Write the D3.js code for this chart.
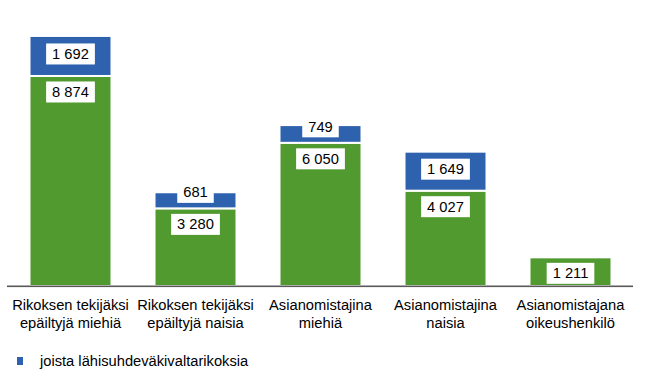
<!DOCTYPE html>
<html><head><meta charset="utf-8">
<script src="https://cdn.jsdelivr.net/npm/d3@7"></script>
<style>body{margin:0;background:#fff;} svg{display:block;font-family:"Liberation Sans",Arial,sans-serif;}</style>
</head><body>
<svg id="c" width="651" height="381"></svg>
<script>
const categories = [
  ["Rikoksen tekijäksi", "epäiltyjä miehiä"],
  ["Rikoksen tekijäksi", "epäiltyjä naisia"],
  ["Asianomistajina", "miehiä"],
  ["Asianomistajina", "naisia"],
  ["Asianomistajana", "oikeushenkilö"]
];
const baseValues = [8874, 3280, 6050, 4027, 1211];
const violenceValues = [1692, 681, 749, 1649, null];
const legendLabel = "joista lähisuhdeväkivaltarikoksia";

const green = "#509A2F", blue = "#2F62AE";
const FS = 14.7;
const svg = d3.select("#c");
const fmt = v => d3.format(",")(v).replace(/,/g, " ");

const x = d3.scaleBand().domain(d3.range(categories.length)).range([8, 633])
  .paddingInner(0.344).paddingOuter(0.172);
const y = d3.scaleLinear().domain([0, 12000]).range([286, 2]);

const data = categories.map((c, i) => ({i, c, g: baseValues[i], b: violenceValues[i]}));

svg.selectAll("rect.g").data(data).join("rect")
  .attr("x", d => x(d.i)).attr("width", x.bandwidth())
  .attr("y", d => y(d.g)).attr("height", d => y(0) - y(d.g))
  .attr("fill", green).attr("stroke", "#fff").attr("stroke-width", 2);
const bd = data.filter(d => d.b);
svg.selectAll("rect.b").data(bd).join("rect")
  .attr("x", d => x(d.i)).attr("width", x.bandwidth())
  .attr("y", d => y(d.g + d.b)).attr("height", d => y(d.g) - y(d.g + d.b))
  .attr("fill", blue).attr("stroke", "#fff").attr("stroke-width", 2);

svg.append("rect").attr("x", 7).attr("y", 285.5).attr("width", 626).attr("height", 1.6).attr("fill", "#595959");

function label(cx, cy, txt) {
  const g = svg.append("g");
  const t = g.append("text").attr("x", cx).attr("y", cy).attr("text-anchor", "middle")
    .attr("dominant-baseline", "central").attr("font-size", FS).attr("fill", "#000").text(txt);
  const w = t.node().getComputedTextLength();
  g.insert("rect", "text").attr("x", cx - w / 2 - 6).attr("y", cy - 10.5).attr("width", w + 12)
    .attr("height", 21).attr("fill", "#fff");
}
data.forEach(d => {
  const cx = x(d.i) + x.bandwidth() / 2;
  label(cx, y(d.g) + 16, fmt(d.g));
  if (d.b) {
    const top = y(d.g + d.b), bot = y(d.g);
    label(cx, Math.min((top + bot) / 2 - 2, bot - 16), fmt(d.b));
  }
});

data.forEach(d => {
  const cx = x(d.i) + x.bandwidth() / 2;
  const t = svg.append("text").attr("text-anchor", "middle").attr("font-size", FS).attr("fill", "#000");
  d.c.forEach((line, k) => t.append("tspan").attr("x", cx).attr("y", 309.5 + k * 18.5).text(line));
});

svg.append("rect").attr("x", 17).attr("y", 357).attr("width", 6).attr("height", 8).attr("fill", blue);
svg.append("text").attr("x", 40).attr("y", 366).attr("font-size", FS).attr("fill", "#000").text(legendLabel);
</script>
</body></html>
